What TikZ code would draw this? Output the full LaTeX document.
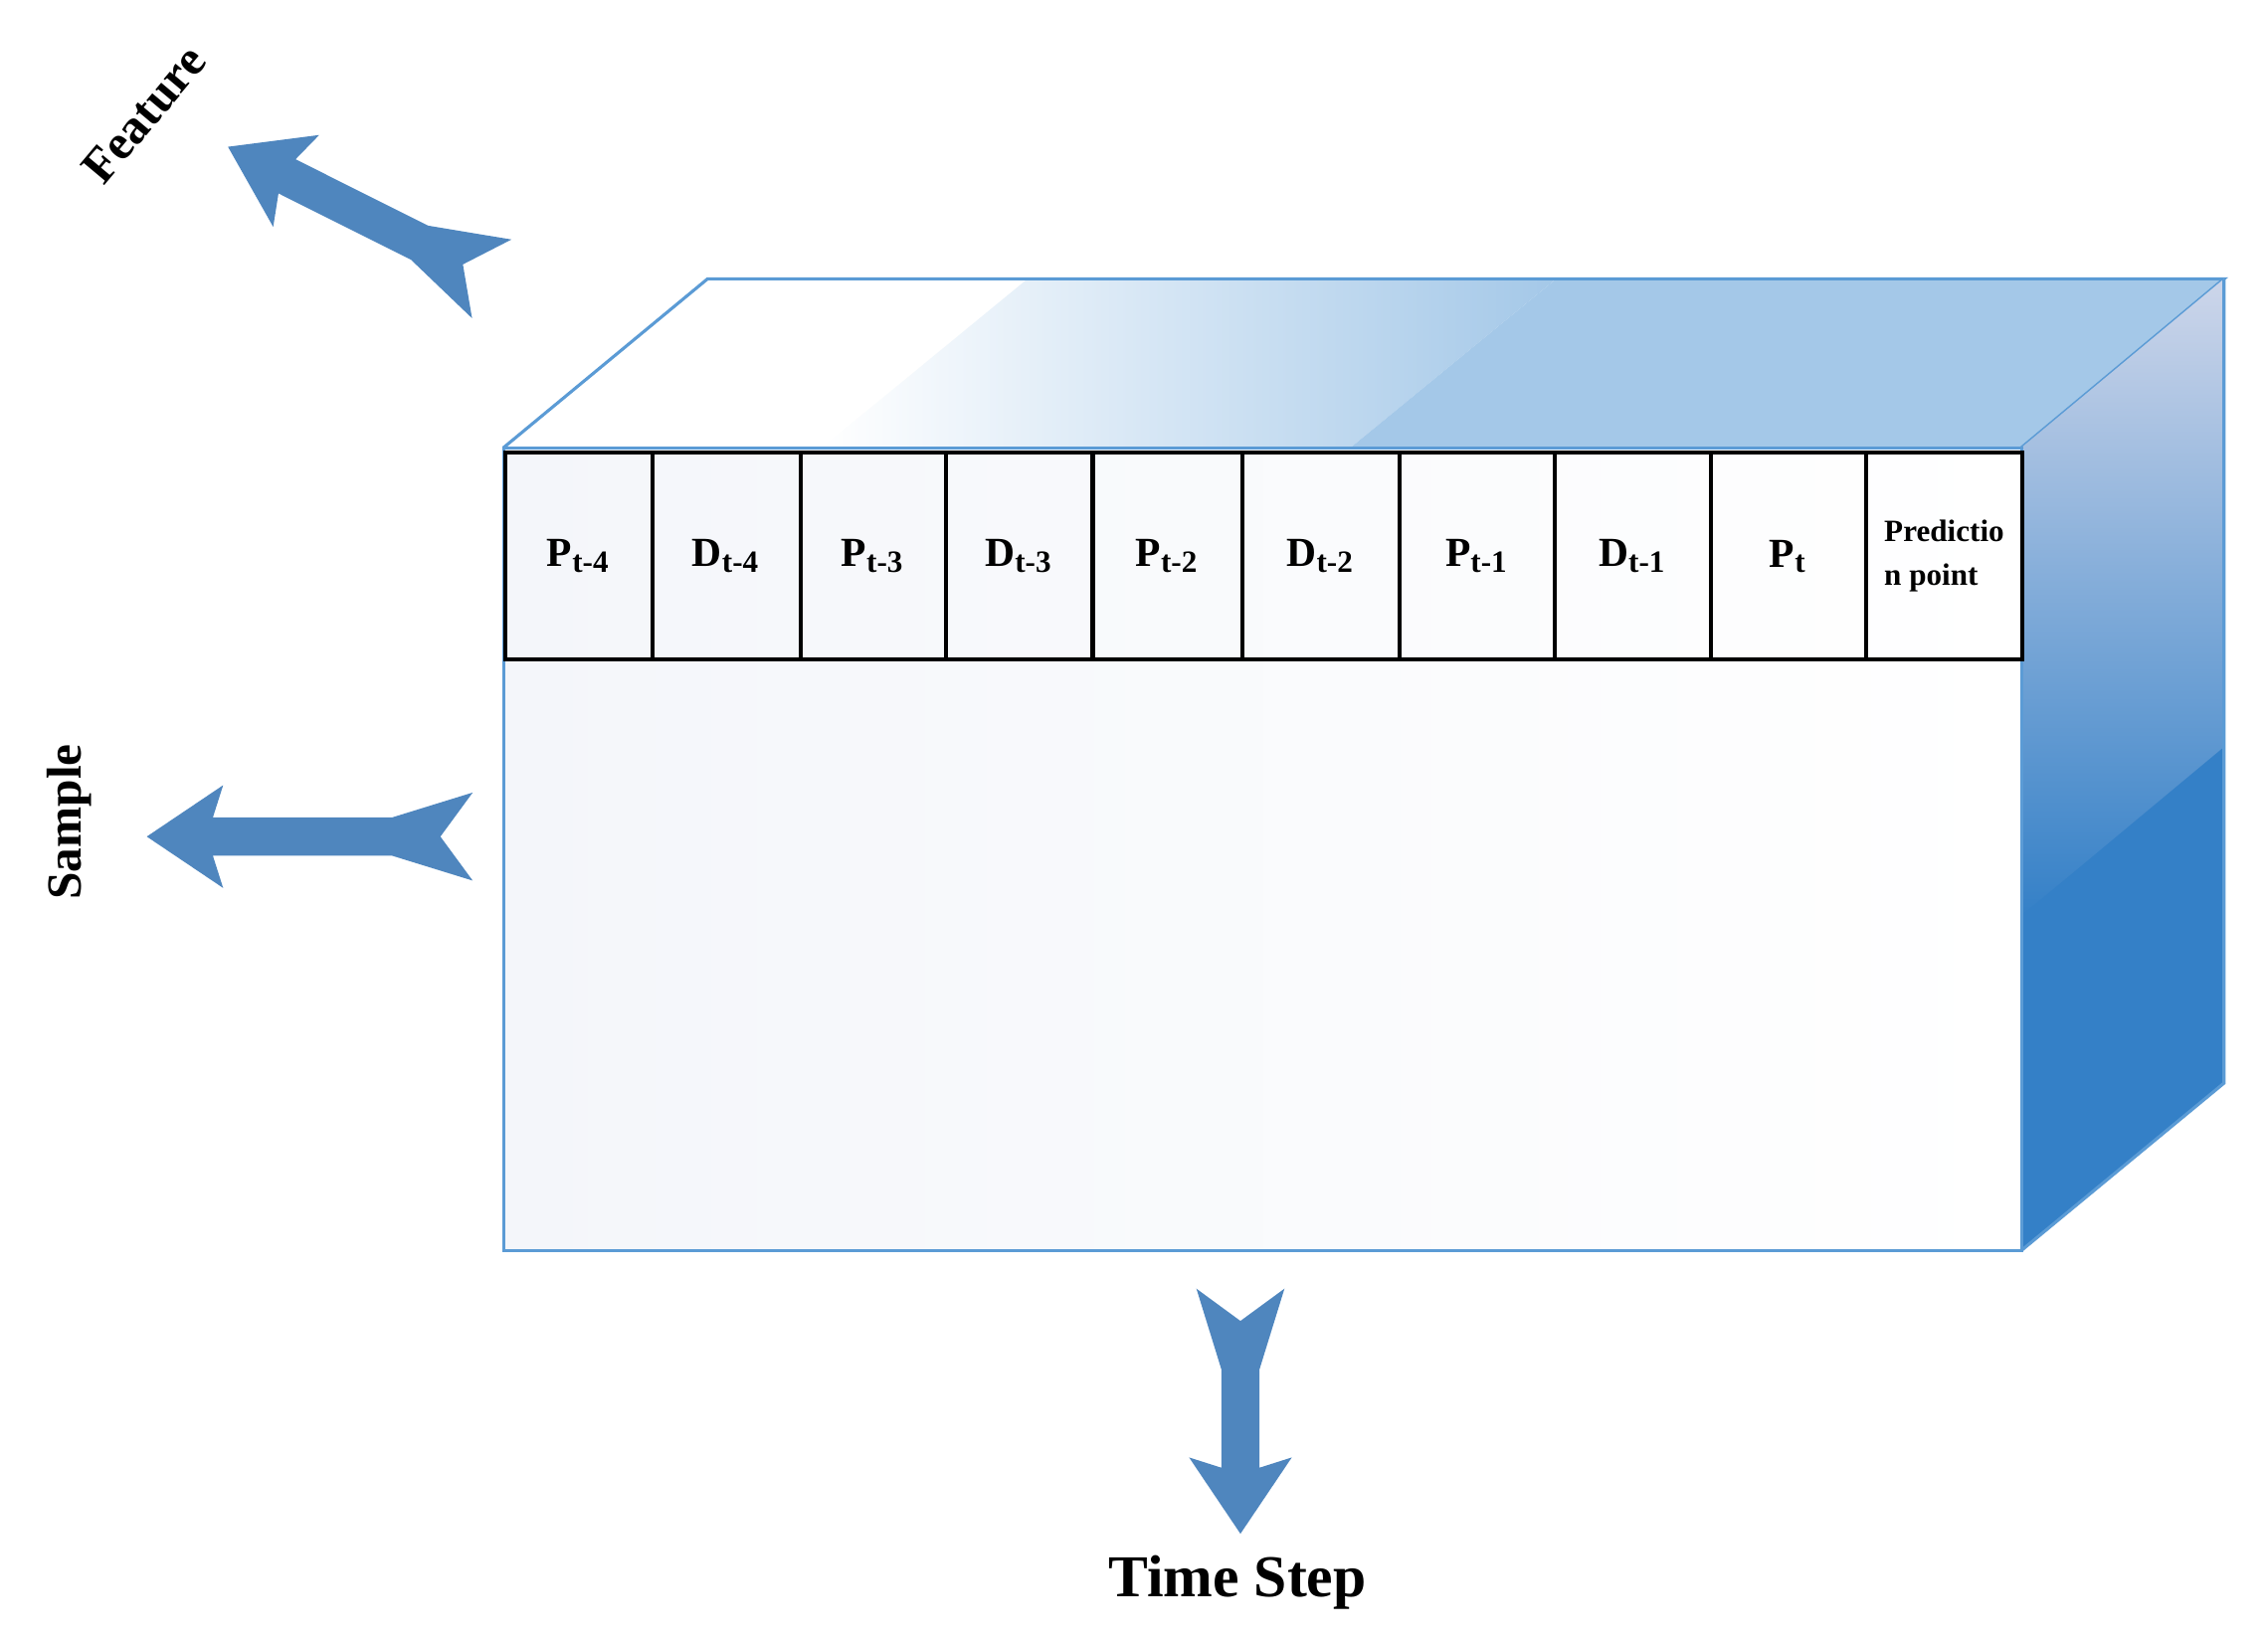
\documentclass[tikz,border=0pt]{standalone}
\usepackage{fontspec}
\setmainfont{Liberation Serif}
\begin{document}
\begin{tikzpicture}[x=0.01cm,y=-0.01cm,
  edge/.style={draw={rgb,255:red,91;green,155;blue,213},line width=0.6pt},
  cell/.style={draw=black,line width=0.8pt,minimum width=#1*0.01cm,minimum height=1.41cm,inner sep=0pt,font=\bfseries\fontsize{8}{9}\selectfont,anchor=north west},
  arr/.style={fill={rgb,255:red,79;green,134;blue,190},draw=none},
  lbl/.style={font=\bfseries\fontsize{9.5}{11}\selectfont}]
\useasboundingbox (0,0) rectangle (1545,1118);
\definecolor{topb}{RGB}{164,200,232}
\definecolor{sideTop}{RGB}{205,214,234}
\definecolor{sideB}{RGB}{52,128,199}
% top face
\fill[white] (343,305) -- (482,190) -- (700,190) -- (560,305) -- cycle;
\shade[left color=white,right color=topb] (560,305) -- (700,190) -- (1060,190) -- (920,305) -- cycle;
\fill[topb] (920,305) -- (1060,190) -- (1515,190) -- (1377,305) -- cycle;
\draw[edge] (343,305) -- (482,190) -- (1515,190) -- (1377,305);
% right face
\shade[top color=sideTop,bottom color=sideB] (1377,305) -- (1515,190) -- (1515,510) -- (1377,625) -- cycle;
\fill[sideB] (1377,624) -- (1515,509) -- (1515,738) -- (1377,852) -- cycle;
\draw[edge] (1515,190) -- (1515,738) -- (1377,852);
% front face
\shade[left color={rgb,255:red,244;green,246;blue,250},right color=white] (343,305) rectangle (1377,852);
\draw[edge] (343,305) rectangle (1377,852);
% cells
\node[cell=100] (c1) at (343,307) {P\textsubscript{t-4}};
\node[cell=101] (c2) at (443,307) {D\textsubscript{t-4}};
\node[cell=99] (c3) at (544,307) {P\textsubscript{t-3}};
\node[cell=100] (c4) at (643,307) {D\textsubscript{t-3}};
\node[cell=102] (c5) at (743,307) {P\textsubscript{t-2}};
\node[cell=107] (c6) at (845,307) {D\textsubscript{t-2}};
\node[cell=106] (c7) at (952,307) {P\textsubscript{t-1}};
\node[cell=106] (c8) at (1058,307) {D\textsubscript{t-1}};
\node[cell=106] (c9) at (1164,307) {P\textsubscript{t}};
\node[cell=106,font=\bfseries\fontsize{6}{8.5}\selectfont,align=left] (c10) at (1270,307) {Predictio\\n point};
% arrows
\newcommand{\myarrow}[1]{%
 \fill[arr] (#1,0) -- (#1-52,35) -- (#1-45,13) -- (55,13) -- (0,30) -- (22,0) -- (0,-30) -- (55,-13) -- (#1-45,-13) -- (#1-52,-35) -- cycle;}
\begin{scope}[shift={(335,190)},rotate=153.4]\myarrow{201}\end{scope}
\begin{scope}[shift={(322,570)},rotate=180]\myarrow{222}\end{scope}
\begin{scope}[shift={(845,878)},rotate=-90]\myarrow{167}\end{scope}
% labels
\node[lbl,rotate=50] (f) at (98,78) {Feature};
\node[lbl,rotate=90] (s) at (47,560) {Sample};
\node[lbl,font=\bfseries\fontsize{11.5}{13}\selectfont] (t) at (843,1078) {Time Step};
\end{tikzpicture}
\end{document}
